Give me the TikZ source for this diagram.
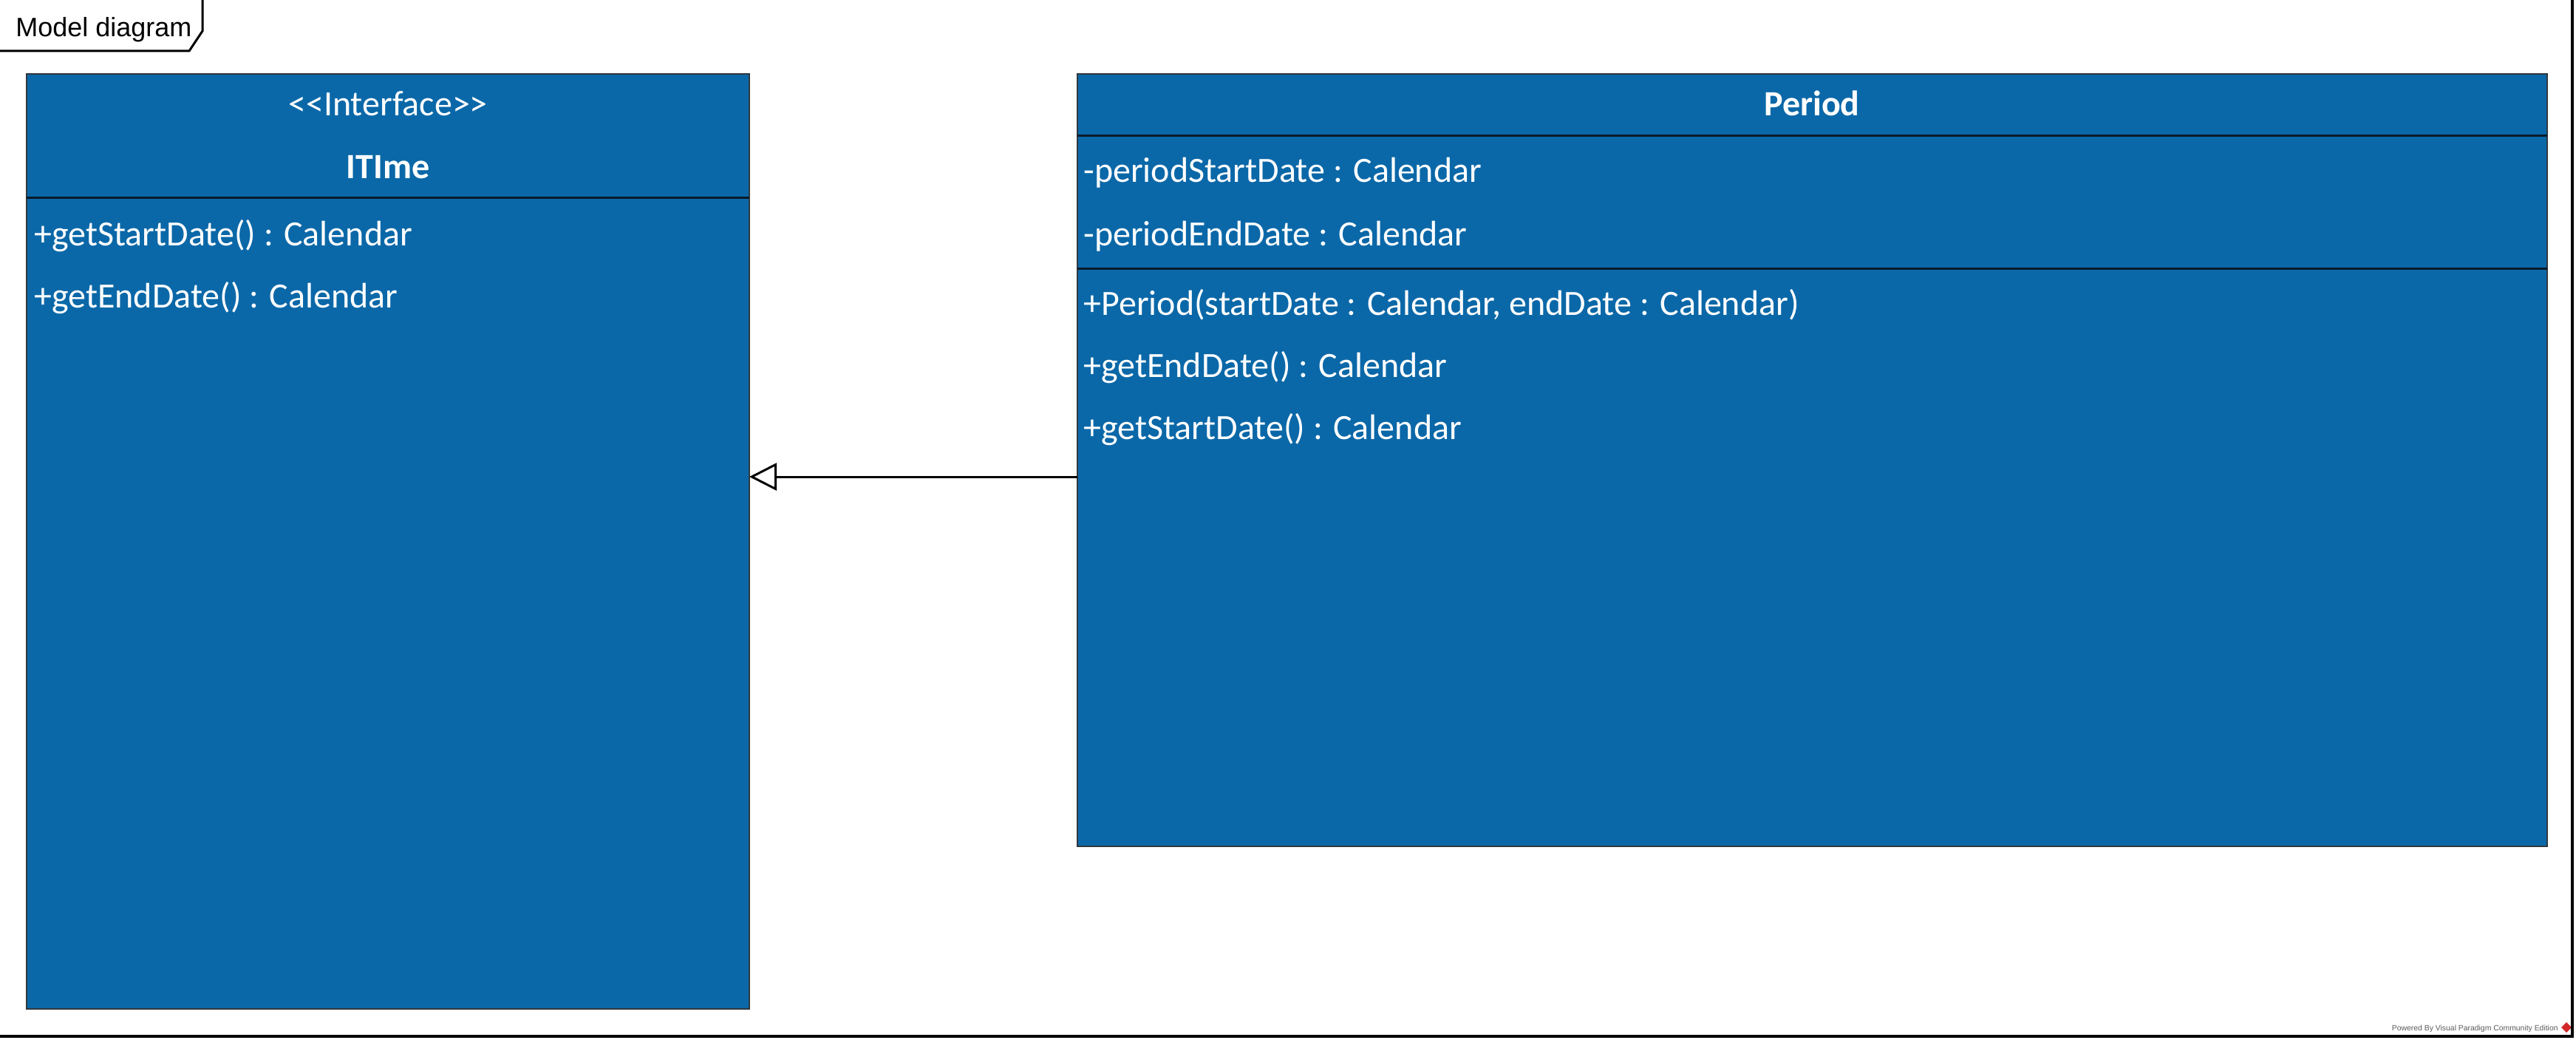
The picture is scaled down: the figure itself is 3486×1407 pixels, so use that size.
\documentclass[tikz,border=0pt]{standalone}
\usepackage{fontspec}
\setmainfont{Carlito}
\newfontfamily\arialfont{Liberation Sans}
\usetikzlibrary{arrows.meta,calc}
\definecolor{umlblue}{RGB}{11,104,168}
\definecolor{umlborder}{RGB}{50,56,62}
\definecolor{umlsep}{RGB}{10,26,42}
\definecolor{wmgray}{RGB}{90,90,90}
\definecolor{vpred}{RGB}{210,40,40}
\begin{document}
\begin{tikzpicture}[x=0.5pt,y=-0.5pt,
  umlbox/.style={draw=umlborder, line width=1pt, fill=umlblue, inner sep=0pt, outer sep=0pt, anchor=north west},
  sepline/.style={draw=umlsep, line width=1.5pt},
  umltext/.style={text=white, font=\fontsize{24}{28}\selectfont, inner sep=0pt, anchor=base west},
  umlhead/.style={text=white, font=\fontsize{24}{28}\selectfont, inner sep=0pt, anchor=base},
  umlname/.style={text=white, font=\bfseries\fontsize{24}{28}\selectfont, inner sep=0pt, anchor=base},
  framepen/.style={draw=black, line width=2pt},
  tabpen/.style={draw=black, line width=1.5pt},
  realize/.style={draw=black, line width=1.5pt, -{Triangle[open, length=18.5pt, width=18.5pt, line width=1.5pt]}}
]
\useasboundingbox (0,0) rectangle (3486,1407);

% diagram frame tab
\draw[tabpen] (0,69) -- (256,69) -- (274,42) -- (274,0);
\node[font=\arialfont\fontsize{18}{21}\selectfont, anchor=base west, inner sep=0pt] (title) at (21,50) {Model diagram};

% ITIme interface
\node[umlbox, minimum width=489pt, minimum height=632.5pt] (itime) at (36,100) {};
\draw[sepline] ($(itime.north west)+(0,168)$) -- ($(itime.north east)+(0,168)$);
\node[umlhead] (istereo) at (525,157) {<\kern0pt<Interface>\kern0pt>};
\node[umlname] (iname) at (525,242) {ITIme};
\node[umltext] (im1) at (46,332) {+getStartDate() : Calendar};
\node[umltext] (im2) at (46,416) {+getEndDate() : Calendar};

% Period class
\node[umlbox, minimum width=994.5pt, minimum height=522.5pt] (period) at (1458,100) {};
\draw[sepline] ($(period.north west)+(0,84)$) -- ($(period.north east)+(0,84)$);
\draw[sepline] ($(period.north west)+(0,263)$) -- ($(period.north east)+(0,263)$);
\node[umlname] (pname) at (2452,157) {Period};
\node[umltext] (pa1) at (1466,247) {-periodStartDate : Calendar};
\node[umltext] (pa2) at (1466,332) {-periodEndDate : Calendar};
\node[umltext] (pm1) at (1466,426) {+Period(startDate : Calendar, endDate : Calendar)};
\node[umltext] (pm2) at (1466,510) {+getEndDate() : Calendar};
\node[umltext] (pm3) at (1466,594) {+getStartDate() : Calendar};

% realization
\coordinate (ay) at (0,645);
\draw[realize] (ay -| period.west) -- (ay -| itime.east);

% watermark
\node[font=\arialfont\fontsize{5.2}{6}\selectfont, text=wmgray, anchor=base east, inner sep=0pt] (wm) at (3462,1394) {Powered By Visual Paradigm Community Edition};
\fill[vpred] (3473,1383) -- (3480,1390) -- (3473,1397) -- (3466,1390) -- cycle;

% outer frame
\draw[framepen] (3481,0) -- (3481,1402) -- (0,1402);
\end{tikzpicture}
\end{document}
